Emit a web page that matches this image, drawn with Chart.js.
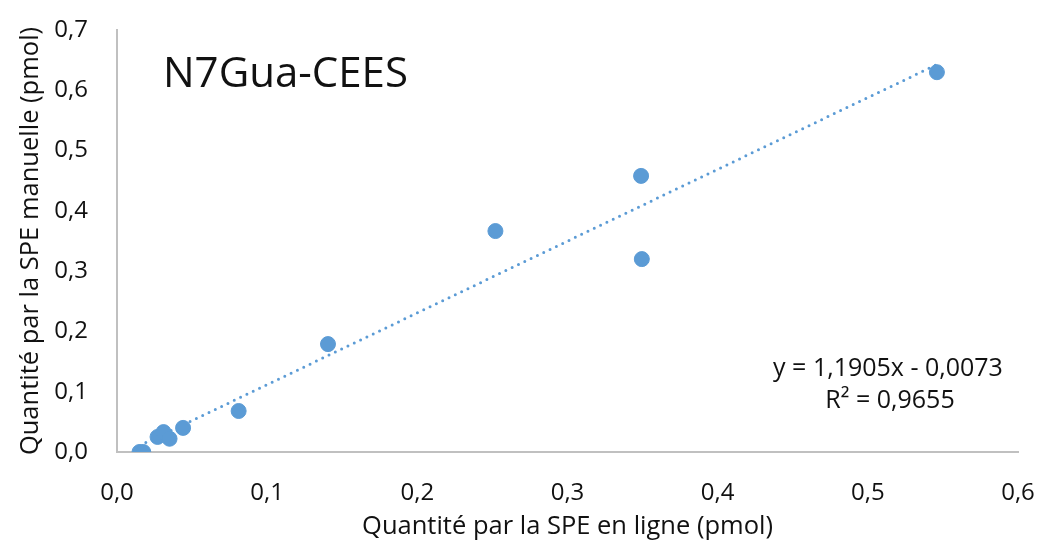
<!DOCTYPE html>
<html lang="fr">
<head>
    <meta charset="UTF-8">
    <title>N7Gua-CEES</title>
    <script src="https://cdn.jsdelivr.net/npm/chart.js"></script>
    <style>
        body {
            margin: 0;
            background: #fff;
        }
        .chart-container {
            width: 1044px;
            height: 546px;
        }
    </style>
</head>
<body>

<div class="chart-container">
    <canvas id="speChart"></canvas>
</div>

<script>
    // Quantités mesurées (pmol)
    const enLigne = [0.015, 0.0175, 0.027, 0.031, 0.035, 0.044, 0.081, 0.1405, 0.252, 0.349, 0.3495, 0.546];
    const manuelle = [0.000, 0.000, 0.025, 0.033, 0.022, 0.040, 0.068, 0.179, 0.3665, 0.458, 0.320, 0.630];

    // Régression linéaire
    const pente = 1.1905;
    const ordonnee = -0.0073;
    const r2 = 0.9655;

    const xTickLabels = ['0,0', '0,1', '0,2', '0,3', '0,4', '0,5', '0,6'];
    const yTickLabels = ['0,0', '0,1', '0,2', '0,3', '0,4', '0,5', '0,6', '0,7'];

    const bleu = '#5B9BD5';
    const texte = '#111';
    const police = "'Open Sans', sans-serif";

    const points = enLigne.map((x, i) => ({x: x, y: manuelle[i]}));
    const xMin = Math.min(...enLigne);
    const xMax = Math.max(...enLigne);
    const tendance = [
        {x: xMin, y: pente * xMin + ordonnee},
        {x: xMax, y: pente * xMax + ordonnee}
    ];

    const fmt = v => v.toFixed(4).replace('.', ',');
    const equation = 'y = ' + fmt(pente) + 'x - ' + fmt(Math.abs(ordonnee));

    // titre du composé + équation de la courbe de tendance
    const annotations = {
        id: 'annotations',
        afterDraw(chart) {
            const ctx = chart.ctx;
            const area = chart.chartArea;
            ctx.save();
            ctx.fillStyle = texte;
            ctx.textBaseline = 'middle';
            ctx.textAlign = 'left';
            ctx.font = "42px " + police;
            ctx.fillText('N7Gua-CEES', area.left + 46, area.top + 45);

            ctx.font = "25px " + police;
            ctx.textAlign = 'center';
            ctx.fillText(equation, area.right - 130, 369);
            ctx.fillText('R² = ' + r2.toFixed(4).replace('.', ','), area.right - 128, 401);
            ctx.restore();
        }
    };

    new Chart(document.getElementById('speChart'), {
        type: 'scatter',
        data: {
            datasets: [{
                label: 'Linéaire',
                data: tendance,
                showLine: true,
                borderColor: bleu,
                borderWidth: 3,
                borderDash: [0, 7],
                borderCapStyle: 'round',
                pointRadius: 0,
                order: 2
            }, {
                label: 'N7Gua-CEES',
                data: points,
                backgroundColor: bleu,
                borderColor: bleu,
                pointRadius: 7.5,
                order: 1
            }]
        },
        options: {
            responsive: true,
            maintainAspectRatio: false,
            animation: false,
            layout: {
                padding: {left: 0, top: 30, right: 26, bottom: 0}
            },
            plugins: {
                legend: {display: false},
                tooltip: {enabled: false}
            },
            scales: {
                x: {
                    type: 'linear',
                    min: 0,
                    max: 0.6,
                    afterFit: scale => {
                        scale.height = 94;
                        scale.paddingLeft = 0;
                        scale.paddingRight = 0;
                    },
                    grid: {display: false, drawTicks: false},
                    border: {display: true, color: '#c0c0c0', width: 2},
                    ticks: {
                        stepSize: 0.1,
                        padding: 27,
                        color: texte,
                        font: {family: police, size: 24},
                        callback: (v, i) => xTickLabels[i]
                    },
                    title: {
                        display: true,
                        text: 'Quantité par la SPE en ligne (pmol)',
                        color: texte,
                        font: {family: police, size: 25.5},
                        padding: {top: 0, bottom: 4}
                    }
                },
                y: {
                    type: 'linear',
                    min: 0,
                    max: 0.7,
                    afterFit: scale => {
                        scale.width = 117;
                        scale.paddingTop = 0;
                        scale.paddingBottom = 0;
                    },
                    grid: {display: false, drawTicks: false},
                    border: {display: true, color: '#c0c0c0', width: 2},
                    ticks: {
                        stepSize: 0.1,
                        padding: 29,
                        color: texte,
                        font: {family: police, size: 24},
                        callback: (v, i) => yTickLabels[i]
                    },
                    title: {
                        display: true,
                        text: 'Quantité par la SPE manuelle (pmol)',
                        color: texte,
                        font: {family: police, size: 25.5},
                        padding: {top: 15, bottom: 0}
                    }
                }
            }
        },
        plugins: [annotations]
    });
</script>

</body>
</html>
